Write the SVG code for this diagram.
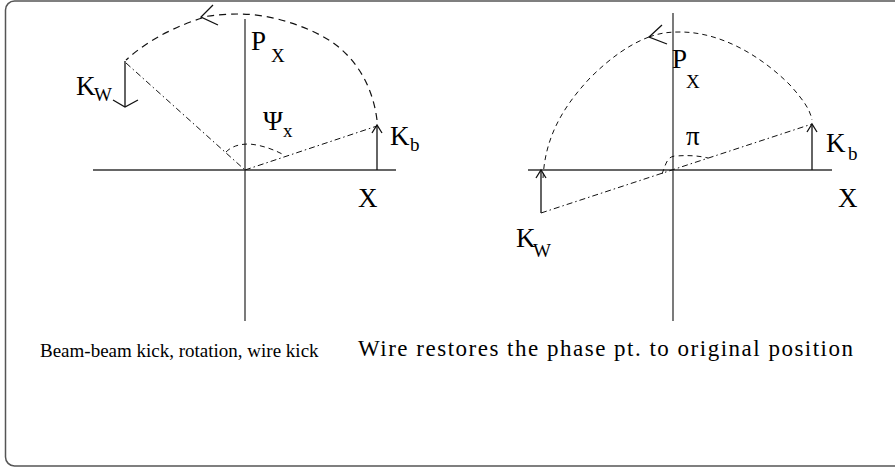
<svg xmlns="http://www.w3.org/2000/svg" width="895" height="469" viewBox="0 0 895 469">
<style>
.ax{stroke:#333;stroke-width:1.3;fill:none}
.arr{stroke:#111;stroke-width:1.3;fill:none}
.dash{stroke:#111;stroke-width:1.2;fill:none;stroke-dasharray:7 5}
.sdash{stroke:#111;stroke-width:1;fill:none;stroke-dasharray:5 4}
.dd{stroke:#111;stroke-width:1;fill:none;stroke-dasharray:6 3 1.5 3}
text{font-family:"Liberation Serif",serif;fill:#000}
.big{font-size:27px}
.sub{font-size:19px}
.cap{font-size:19px}
.cap2{font-size:23px}
</style>
<rect x="5.5" y="1" width="900" height="465" rx="9" fill="#fff" stroke="#555" stroke-width="1.5"/>
<g id="left">
<g id="left-axes">
<line class="ax" x1="93" y1="170" x2="396" y2="170"/>
<line class="ax" x1="245" y1="19" x2="245" y2="321"/>
</g>
<g id="left-connectors">
<line class="dd" x1="245" y1="170" x2="377" y2="126"/>
<line class="dd" x1="126" y1="63" x2="245" y2="170"/>
<path class="dash" d="M377,120 C372,80 350,50 320,35 C295,22 265,14 240,14 C228,14 215,15 202,17"/>
<path class="dash" d="M202,18 C180,25 150,38 126,60"/>
<path class="arr" d="M213,5 L201,17 L218,25"/>
<path class="sdash" d="M226,152 C232,146 240,144 249,144 C262,145 275,150 284,155"/>
<line class="arr" x1="377" y1="170" x2="377" y2="125"/>
<path class="arr" d="M372,133 L377,125 L382,133"/>
<line class="arr" x1="125" y1="61" x2="125" y2="107"/>
<path class="arr" d="M113,100 L125,107 L138,100"/>
</g>
<g id="left-labels">
<text class="big" x="251" y="50">P</text><text class="sub" x="271" y="62">X</text>
<text class="big" x="76" y="95">K</text><text class="sub" x="94" y="101">W</text>
<text class="big" x="263" y="130">Ψ</text><text class="sub" x="283" y="137">x</text>
<text class="big" x="390" y="145">K</text><text class="sub" x="410" y="151">b</text>
<text class="big" x="358" y="207">X</text>
<text class="cap" x="40" y="357">Beam-beam kick, rotation, wire kick</text>
</g>
</g>
<g id="right">
<g id="right-axes">
<line class="ax" x1="528" y1="170" x2="832" y2="170"/>
<line class="ax" x1="673" y1="13" x2="673" y2="321"/>
</g>
<g id="right-connectors">
<line class="dd" x1="541" y1="213" x2="812" y2="124"/>
<path class="sdash" d="M543,178 C545,140 560,110 590,78 C610,58 630,44 649,37"/>
<path class="sdash" d="M649,37 C660,33 668,32 680,32 C720,32 760,55 790,85 C805,102 810,110 812,120"/>
<path class="arr" d="M662,25 L649,37 L667,44"/>
<path class="sdash" d="M662,174 C666,164 667,156 676,156 C690,155 700,156 708,158"/>
<line class="arr" x1="812" y1="170" x2="812" y2="124"/>
<path class="arr" d="M807,132 L812,124 L817,132"/>
<line class="arr" x1="541" y1="213" x2="541" y2="170"/>
<path class="arr" d="M536,178 L541,170 L546,178"/>
</g>
<g id="right-labels">
<text class="big" x="672" y="68">P</text><text class="sub" x="686" y="88">X</text>
<text class="big" x="686" y="145">π</text>
<text class="big" x="826" y="152">K</text><text class="sub" x="848" y="160">b</text>
<text class="big" x="838" y="207">X</text>
<text class="big" x="516" y="247">K</text><text class="sub" x="533" y="257">W</text>
<text class="cap2" x="358" y="356" textLength="495">Wire restores the phase pt. to original position</text>
</g>
</g>
</svg>
